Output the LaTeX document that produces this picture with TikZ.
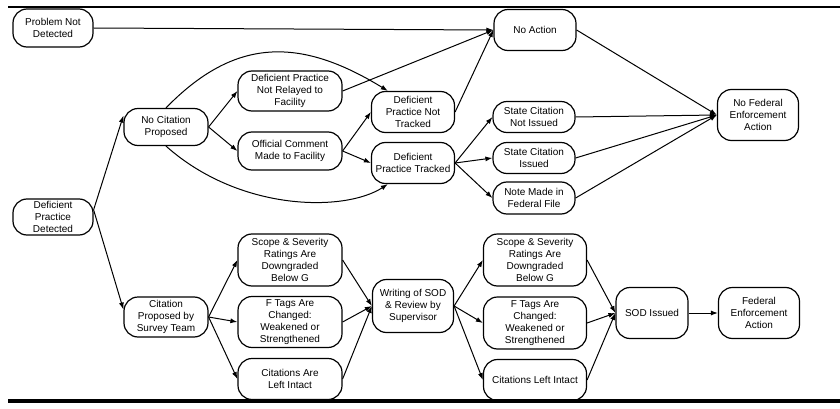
\documentclass[tikz,border=0pt]{standalone}
\usepackage{fontspec}
\setmainfont{Liberation Sans}
\usetikzlibrary{arrows.meta}

\begin{document}
\begin{tikzpicture}[x=1pt, y=-1pt, line width=1pt, line join=round,
  caja/.style={draw, line width=1.2pt, rounded corners=14pt, align=center,
    inner sep=1pt, font=\fontsize{10}{12}\selectfont},
  flecha/.style={-{Latex[length=7pt,width=5pt]}}]
  \useasboundingbox (0,0) rectangle (840,409);
  % las reglas de arriba y de abajo
  \draw[line width=1.4pt] (8,7) -- (840,7);
  \draw[line width=4.5pt] (8,401) -- (840,401);
  % la rama de arriba
  \node[caja, minimum width=80pt, minimum height=38pt] (sinproblema) at (53,28) {Problem Not\\Detected};
  \node[caja, minimum width=80pt, minimum height=36pt] (detectada) at (53,217) {Deficient\\Practice\\Detected};
  \node[caja, minimum width=84pt, minimum height=37pt] (nocita) at (166,127) {No Citation\\Proposed};
  \node[caja, minimum width=104pt, minimum height=40pt] (norelay) at (290,91) {Deficient Practice\\Not Relayed to\\Facility};
  \node[caja, minimum width=104pt, minimum height=38pt] (comentario) at (290,151) {Official Comment\\Made to Facility};
  \node[caja, minimum width=83pt, minimum height=41pt] (nosigue) at (413,112) {Deficient\\Practice Not\\Tracked};
  \node[caja, minimum width=83pt, minimum height=41pt] (sigue) at (413,163) {Deficient\\Practice Tracked};
  \node[caja, minimum width=82pt, minimum height=41pt] (sinaccion) at (535,30) {No Action};
  \node[caja, minimum width=82pt, minimum height=31pt] (estnoemit) at (534,117) {State Citation\\Not Issued};
  \node[caja, minimum width=82pt, minimum height=31pt] (estemit) at (534,158) {State Citation\\Issued};
  \node[caja, minimum width=82pt, minimum height=32pt] (nota) at (534,198) {Note Made in\\Federal File};
  \node[caja, minimum width=81pt, minimum height=51pt] (nofed) at (758,115) {No Federal\\Enforcement\\Action};
  % la rama de abajo
  \node[caja, minimum width=84pt, minimum height=40pt] (cita) at (166,317) {Citation\\Proposed by\\Survey Team};
  \node[caja, minimum width=104pt, minimum height=52pt] (gravizq) at (290,260) {Scope \& Severity\\Ratings Are\\Downgraded\\Below G};
  \node[caja, minimum width=104pt, minimum height=51pt] (etiqizq) at (290,322) {F Tags Are\\Changed:\\Weakened or\\Strengthened};
  \node[caja, minimum width=104pt, minimum height=41pt] (intactizq) at (290,379) {Citations Are\\Left Intact};
  \node[caja, minimum width=81pt, minimum height=53pt] (redaccion) at (413,306) {Writing of SOD\\\& Review by\\Supervisor};
  \node[caja, minimum width=103pt, minimum height=52pt] (gravder) at (535,260) {Scope \& Severity\\Ratings Are\\Downgraded\\Below G};
  \node[caja, minimum width=103pt, minimum height=52pt] (etiqder) at (535,323) {F Tags Are\\Changed:\\Weakened or\\Strengthened};
  \node[caja, minimum width=103pt, minimum height=41pt] (intactder) at (535,380) {Citations Left Intact};
  \node[caja, minimum width=72pt, minimum height=51pt] (sodemit) at (652,313) {SOD Issued};
  \node[caja, minimum width=81pt, minimum height=51pt] (fed) at (759,313) {Federal\\Enforcement\\Action};
  % las flechas rectas
  \foreach \a/\b in {sinproblema.east/sinaccion.west, norelay.east/sinaccion.west,
      nosigue.east/sinaccion.west, detectada.10/nocita.165, detectada.10/cita.170,
      nocita.east/norelay.west, nocita.east/comentario.west,
      comentario.east/nosigue.west, comentario.east/sigue.west,
      sigue.east/estnoemit.west, sigue.east/estemit.west, sigue.east/nota.west,
      sinaccion.east/nofed.west, estnoemit.east/nofed.west,
      estemit.east/nofed.west, nota.east/nofed.west,
      cita.east/gravizq.west, cita.east/etiqizq.west, cita.east/intactizq.west,
      gravizq.east/redaccion.west, etiqizq.east/redaccion.west, intactizq.east/redaccion.west,
      redaccion.east/gravder.west, redaccion.east/etiqder.west, redaccion.east/intactder.west,
      gravder.east/sodemit.west, etiqder.east/sodemit.west, intactder.east/sodemit.west,
      sodemit.east/fed.west}
    \draw[flecha] (\a) -- (\b);
  % los dos arcos
  \draw[flecha] (nocita.north) .. controls (235,37) and (300,37) .. (nosigue.140);
  \draw[flecha] (nocita.south) .. controls (240,212) and (345,212) .. (sigue.220);
\end{tikzpicture}
\end{document}
